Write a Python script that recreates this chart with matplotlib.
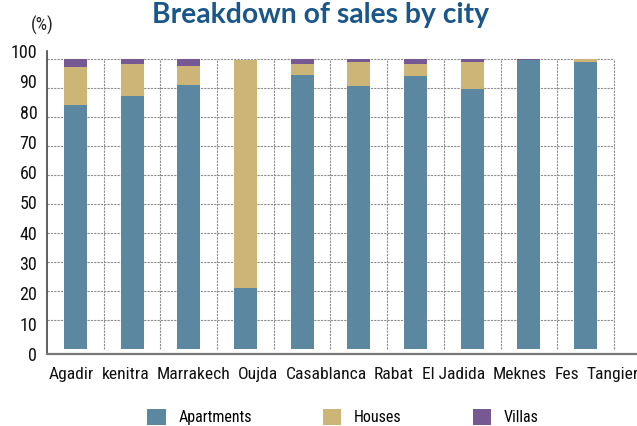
import matplotlib
matplotlib.use('Agg')
import matplotlib.pyplot as plt
from matplotlib import font_manager
import numpy as np

cities = ['Agadir', 'kenitra', 'Marrakech', 'Oujda', 'Casablanca', 'Rabat',
          'El Jadida', 'Meknes', 'Fes', 'Tangier']
apartments = [84, 87, 91, 20.8, 94.4, 90.6, 94.1, 89.6, 99.4, 98.9]
houses = [13, 11.2, 6.5, 78.8, 3.8, 8.3, 4.1, 9.3, 0.0, 1.1]
villas = [3, 1.8, 2.5, 0.0, 1.8, 1.1, 1.8, 1.1, 0.6, 0.0]
yticks = [0, 10, 20, 30, 40, 50, 60, 70, 80, 90, 100]

names = set(f.name for f in font_manager.fontManager.ttflist)
narrow = 'Lato'
for cand in ['DejaVu Sans Condensed', 'Liberation Sans Narrow', 'Roboto Condensed',
             'Open Sans Condensed', 'Noto Sans Condensed']:
    if cand in names:
        narrow = cand
        break
plt.rcParams['font.family'] = [narrow, 'DejaVu Sans']

c_apt = '#5b87a0'
c_hou = '#cdb477'
c_vil = '#765893'
grid_c = '#8c8c8c'

W, H = 637, 426
fig = plt.figure(figsize=(W / 100, H / 100), dpi=100)
ax = fig.add_axes([47 / W, 0.169, 590 / W, 0.7115])
ax.set_xlim(-0.5, 9.906)
ax.set_ylim(-1.8, 102)

x = np.arange(len(cities))
apt = np.array(apartments)
hou = np.array(houses)
vil = np.array(villas)
w = 0.406
b1 = ax.bar(x, apt, w, color=c_apt, label='Apartments', zorder=3)
b2 = ax.bar(x, hou, w, bottom=apt, color=c_hou, label='Houses', zorder=3)
b3 = ax.bar(x, vil, w, bottom=apt + hou, color=c_vil, label='Villas', zorder=3)

# dashed grid, stops at the last category edge
ax.hlines(yticks[1:], -0.5, len(cities) - 0.5, colors=grid_c,
          linestyles=(0, (2, 1)), linewidth=0.8, zorder=1)
ax.vlines(np.arange(len(cities)) + 0.5, 0, 100, colors=grid_c,
          linestyles=(0, (2, 1)), linewidth=0.8, zorder=1)

for s in ['top', 'right']:
    ax.spines[s].set_visible(False)
ax.spines['left'].set_color('#444444')
ax.spines['left'].set_linewidth(1.2)
ax.spines['bottom'].set_color('#777777')
ax.spines['bottom'].set_linewidth(1.6)

# y labels are drawn slightly stretched compared with the grid in the original
ax.set_yticks([-1.82 + 1.0445 * v for v in yticks], [str(v) for v in yticks])
ax.tick_params(axis='both', length=0, colors='#111111')
ax.tick_params(axis='y', pad=7, labelsize=13)

# the city names in the original run as one line of text (not under the bars):
# measure the words and spread them from x=49px to the right edge
renderer = fig.canvas.get_renderer()
def text_w(s, size):
    t = fig.text(0, 0, s, fontsize=size)
    wpx = t.get_window_extent(renderer).width
    t.remove()
    return wpx
widths = np.array([text_w(c, 10) for c in cities])
fes_w = text_w('Fes', 10)
gap_k = 0.33
start, end = 49, 639
size = 10 * (end - start) / (widths.sum() + 9 * gap_k * fes_w)
widths = widths * size / 10
gap = gap_k * fes_w * size / 10
lefts = start + np.concatenate([[0], np.cumsum(widths[:-1] + gap)])
centers_px = lefts + widths / 2
x0_px, x1_px = 47, 637
xl = ax.get_xlim()
label_pos = xl[0] + (centers_px - x0_px) / (x1_px - x0_px) * (xl[1] - xl[0])
ax.set_xticks(label_pos, cities)
ax.tick_params(axis='x', pad=9, labelsize=size)

fig.text(42 / W, 1 - 25 / H, '(%)', ha='center', va='center',
         fontsize=13, color='#222222')
fig.text(320 / W, 1 - 15 / H, 'Breakdown of sales by city', ha='center',
         va='center', fontsize=20.3, fontweight='bold', color='#1b5689',
         family=['Lato', 'DejaVu Sans'])

fig.legend(handles=[b1, b2, b3], loc='center', bbox_to_anchor=(343 / W, 9 / H),
           ncol=3, frameon=False, fontsize=11.5, handlelength=1.15, handleheight=1.15,
           handletextpad=0.8, columnspacing=4.45, borderpad=0)

fig.savefig('out.png', dpi=100)
